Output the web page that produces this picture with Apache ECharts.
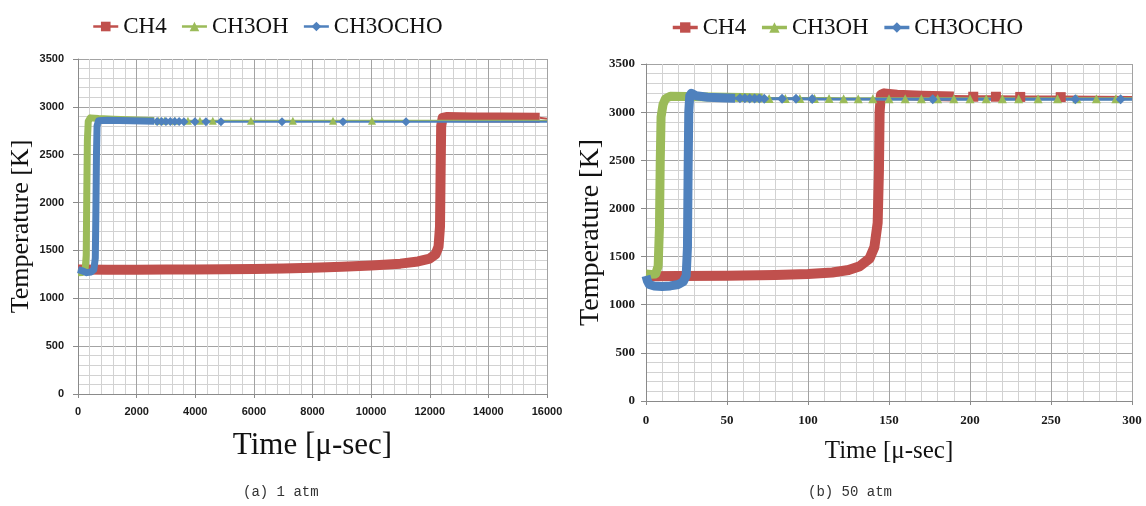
<!DOCTYPE html>
<html>
<head>
<meta charset="utf-8">
<script src="https://cdn.jsdelivr.net/npm/echarts@6/dist/echarts.min.js"></script>
<style>
html,body{margin:0;padding:0;background:#fff;}
#c{width:1146px;height:506px;}
</style>
</head>
<body>
<div id="c"></div>
<script>
// ---------- (a) 1 atm ----------
const xTicks1 = [0, 16000, 2000];   // min, max, interval
const yTicks = [0, 3500, 500];
const ch4Band1 = [[0,1300],[1000,1298],[2000,1298],[3000,1300],[4000,1302],[5000,1304],[6000,1307],[7000,1312],[8000,1320],[9000,1330],[10000,1343],[11000,1362],[11600,1385],[12000,1415],[12200,1460],[12300,1540],[12350,1750],[12370,2300],[12390,2800],[12440,2885],[12600,2895],[13500,2890],[14500,2888],[15750,2885]];
const ch4Marks1 = [];
const ch4End1 = [16000,2875];
const ch3ohBand1 = [[0,1268],[150,1270],[240,1285],[280,1450],[300,2100],[320,2650],[350,2850],[420,2885],[700,2878],[1200,2870],[2000,2862],[2600,2858]];
const ch3ohMarks1 = [[2750,2856],[2950,2856],[3310,2855],[3750,2855],[4160,2855],[4600,2855],[5900,2855],[7330,2855],[8700,2855],[10030,2855]];
const ch3ohEnd1 = [16000,2855];
const ch3ocBand1 = [[0,1300],[120,1290],[300,1268],[450,1275],[540,1300],[590,1420],[610,1900],[630,2500],[650,2800],[700,2855],[1000,2860],[1800,2855],[2600,2850]];
const ch3ocMarks1 = [[2700,2848],[2850,2848],[3000,2847],[3150,2847],[3300,2846],[3450,2846],[3615,2845],[3990,2845],[4365,2845],[4877,2845],[6960,2845],[9040,2845],[11190,2845]];
const ch3ocEnd1 = [16000,2845];

// ---------- (b) 50 atm ----------
const xTicks50 = [0, 300, 50];
const ch4Band50 = [[0,1295],[20,1298],[50,1302],[80,1308],[100,1318],[115,1335],[125,1360],[132,1400],[138,1480],[141,1600],[143,1850],[143.8,2400],[144.2,3000],[145,3180],[147,3195],[155,3180],[170,3170],[190,3162]];
const ch4Marks50 = [[202,3160],[216,3160],[231,3158],[256,3156]];
const ch4End50 = [300,3152];
const ch3ohBand50 = [[0,1320],[3,1315],[6,1320],[7.5,1400],[8.3,1800],[8.8,2500],[9.3,2950],[10.5,3080],[12,3140],[15,3165],[25,3163],[40,3158],[60,3152],[72,3148]];
const ch3ohMarks50 = [[76,3142],[86,3142],[95,3141],[104,3141],[113,3141],[122,3140],[131,3140],[140,3140],[150,3140],[160,3140],[170,3140],[180,3140],[190,3140],[200,3140],[210,3140],[220,3140],[230,3140],[242,3140],[254,3140],[266,3140],[278,3140],[290,3140]];
const ch3ohEnd50 = [300,3140];
const ch3ocBand50 = [[0,1300],[0.8,1250],[2,1210],[5,1195],[10,1190],[15,1195],[20,1210],[23,1240],[24.8,1300],[25.6,1600],[26,2400],[26.4,3000],[27,3170],[28,3195],[31,3170],[38,3155],[50,3148],[55,3145]];
const ch3ocMarks50 = [[58,3143],[61,3143],[64,3142],[67,3142],[70,3141],[73,3140],[84,3138],[92.6,3138],[102.6,3137],[177,3135],[265,3135],[293,3135]];
const ch3ocEnd50 = [300,3135];

const names = ['CH4','CH3OH','CH3OCHO'];
const colors = ['#C0504D','#9BBB59','#4F81BD'];
const symbols = ['rect','triangle','diamond'];

function band(data, ci, width, gi){
  return {name: names[ci]+' band', type:'line', xAxisIndex:gi, yAxisIndex:gi, data: data,
    symbol:'none', showSymbol:false, silent:true, animation:false,
    lineStyle:{color:colors[ci], width:width, cap:'butt', join:'round'}, itemStyle:{color:colors[ci]}};
}
function thin(band, marks, end, ci, width, size, gi){
  const d = [{value: band[band.length-1], symbol:'none'}].concat(marks.map(m=>({value:m}))).concat([{value:end, symbol:'none'}]);
  return {name: names[ci], type:'line', xAxisIndex:gi, yAxisIndex:gi, data:d,
    symbol:symbols[ci], symbolSize:size, showAllSymbol:true, silent:true, animation:false,
    lineStyle:{color:colors[ci], width:width}, itemStyle:{color:colors[ci]}};
}

const gridLine = {lineStyle:{color:'#a3a3a3', width:1}};
const minorLine = {show:true, lineStyle:{color:'#d2d2d2', width:1}};
const plain = v => String(v);

function xAxis(t, gi, lblFont, lblSize, nameSize, nameGap, margin){
  return {type:'value', gridIndex:gi, min:t[0], max:t[1], interval:t[2],
    axisLine:{show:true, onZero:false, lineStyle:{color:'#8a8a8a'}},
    axisTick:{show:true, length:4, lineStyle:{color:'#8a8a8a'}},
    minorTick:{show:false, splitNumber:5}, minorSplitLine:minorLine,
    splitLine:Object.assign({show:true}, gridLine),
    axisLabel:{fontFamily:lblFont, fontWeight:'bold', fontSize:lblSize, color:'#1a1a1a', margin:margin, formatter:plain},
    name:'Time [μ-sec]', nameLocation:'middle', nameGap:nameGap,
    nameTextStyle:{fontFamily:'Liberation Serif', fontSize:nameSize, color:'#111'}};
}
function yAxis(gi, lblFont, lblSize, nameSize, nameGap, margin){
  return {type:'value', gridIndex:gi, min:yTicks[0], max:yTicks[1], interval:yTicks[2],
    axisLine:{show:true, lineStyle:{color:'#8a8a8a'}},
    axisTick:{show:true, length:5, lineStyle:{color:'#8a8a8a'}},
    minorTick:{show:false, splitNumber:5}, minorSplitLine:minorLine,
    splitLine:Object.assign({show:true}, gridLine),
    axisLabel:{fontFamily:lblFont, fontWeight:'bold', fontSize:lblSize, color:'#1a1a1a', margin:margin, formatter:plain},
    name:'Temperature [K]', nameLocation:'middle', nameGap:nameGap, nameRotate:90,
    nameTextStyle:{fontFamily:'Liberation Serif', fontSize:nameSize, color:'#111'}};
}

function legendData(lw){
  return names.map((n,i)=>({name:n, lineStyle:{width:lw, color:colors[i]}}));
}

const chart = echarts.init(document.getElementById('c'), null, {renderer:'canvas'});
chart.setOption({
  animation:false,
  backgroundColor:'#fff',
  grid:[
    {left:78, top:59, width:469, height:335},
    {left:646, top:64, width:486, height:337}
  ],
  legend:[
    {data:legendData(2.5), left:87, top:10, itemWidth:25, itemHeight:12, itemGap:14,
     textStyle:{fontFamily:'Liberation Serif', fontSize:23, color:'#111'}, selectedMode:false},
    {data:legendData(3.5), left:666, top:11, itemWidth:25, itemHeight:13, itemGap:14,
     textStyle:{fontFamily:'Liberation Serif', fontSize:23, color:'#111'}, selectedMode:false}
  ],
  xAxis:[
    xAxis(xTicks1, 0, 'Liberation Sans', 11, 31, 36, 12),
    xAxis(xTicks50, 1, 'Liberation Serif', 13, 25, 38, 13)
  ],
  yAxis:[
    yAxis(0, 'Liberation Sans', 11, 26, 44, 14),
    yAxis(1, 'Liberation Serif', 13, 28, 38, 11)
  ],
  graphic:[
    {type:'text', left:243, top:485, style:{text:'(a) 1 atm', fontFamily:'Liberation Mono', fontSize:14, fill:'#333'}},
    {type:'text', left:808, top:485, style:{text:'(b) 50 atm', fontFamily:'Liberation Mono', fontSize:14, fill:'#333'}}
  ],
  series:[
    band(ch4Band1, 0, 10, 0),
    thin(ch4Band1, ch4Marks1, ch4End1, 0, 2, 8, 0),
    band(ch3ohBand1, 1, 7, 0),
    thin(ch3ohBand1, ch3ohMarks1, ch3ohEnd1, 1, 2, 8, 0),
    band(ch3ocBand1, 2, 7, 0),
    thin(ch3ocBand1, ch3ocMarks1, ch3ocEnd1, 2, 2, 9, 0),
    band(ch4Band50, 0, 10, 1),
    thin(ch4Band50, ch4Marks50, ch4End50, 0, 3, 10, 1),
    band(ch3ohBand50, 1, 9, 1),
    thin(ch3ohBand50, ch3ohMarks50, ch3ohEnd50, 1, 3, 9, 1),
    band(ch3ocBand50, 2, 9, 1),
    thin(ch3ocBand50, ch3ocMarks50, ch3ocEnd50, 2, 3, 10, 1)
  ]
});
</script>
</body>
</html>
